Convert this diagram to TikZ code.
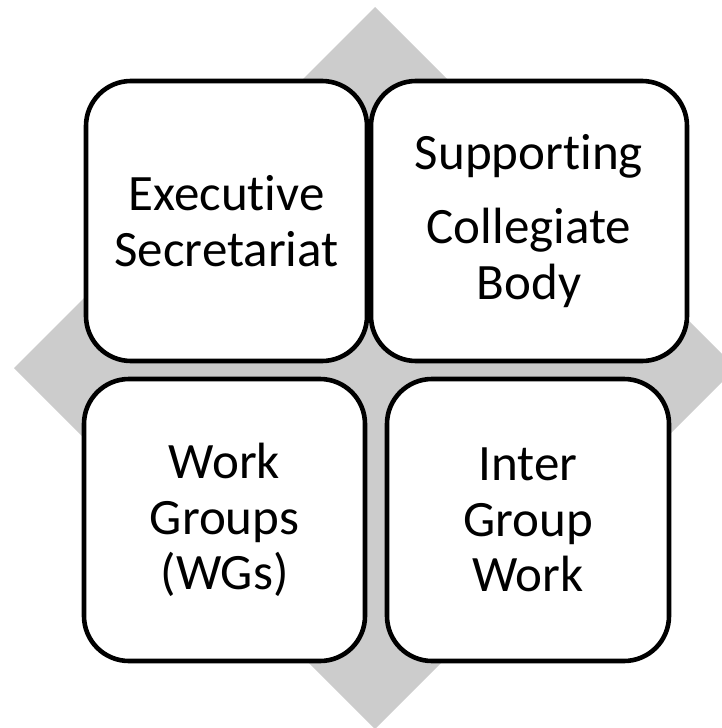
\documentclass[tikz,border=0pt]{standalone}
\usepackage{fontspec}
\setmainfont{Carlito}[Ligatures={NoCommon,NoContextual,NoRare}]
\usepackage{tikz}
\definecolor{diamondgrey}{RGB}{204,204,204}

\begin{document}
\begin{tikzpicture}[x=1pt, y=-1pt,
   box/.style={shape=rectangle, draw, line width=4.6pt, rounded corners=45pt, fill=white, align=center, font=\fontsize{51}{55.5}\selectfont}]
   \useasboundingbox (0,0) rectangle (722,728);
   \fill[diamondgrey] (375,7) -- (14,368) -- (375,729) -- (736,368) -- cycle;
   \node(exec) at (226.5,221) [box, minimum width=281pt, minimum height=280pt] {Execut\kern0pt ive\\Secretariat};
   \node(support) at (529,221) [box, minimum width=316pt, minimum height=280pt] {Support\kern0pt ing\\[19pt]Collegiate\\Body};
   \node(groups) at (224.5,520) [box, minimum width=281pt, minimum height=282pt] {Work\\Groups\\(WGs)};
   \node(inter) at (528,520) [box, minimum width=282pt, minimum height=282pt] {Inter\\Group\\Work};
\end{tikzpicture}
\end{document}
